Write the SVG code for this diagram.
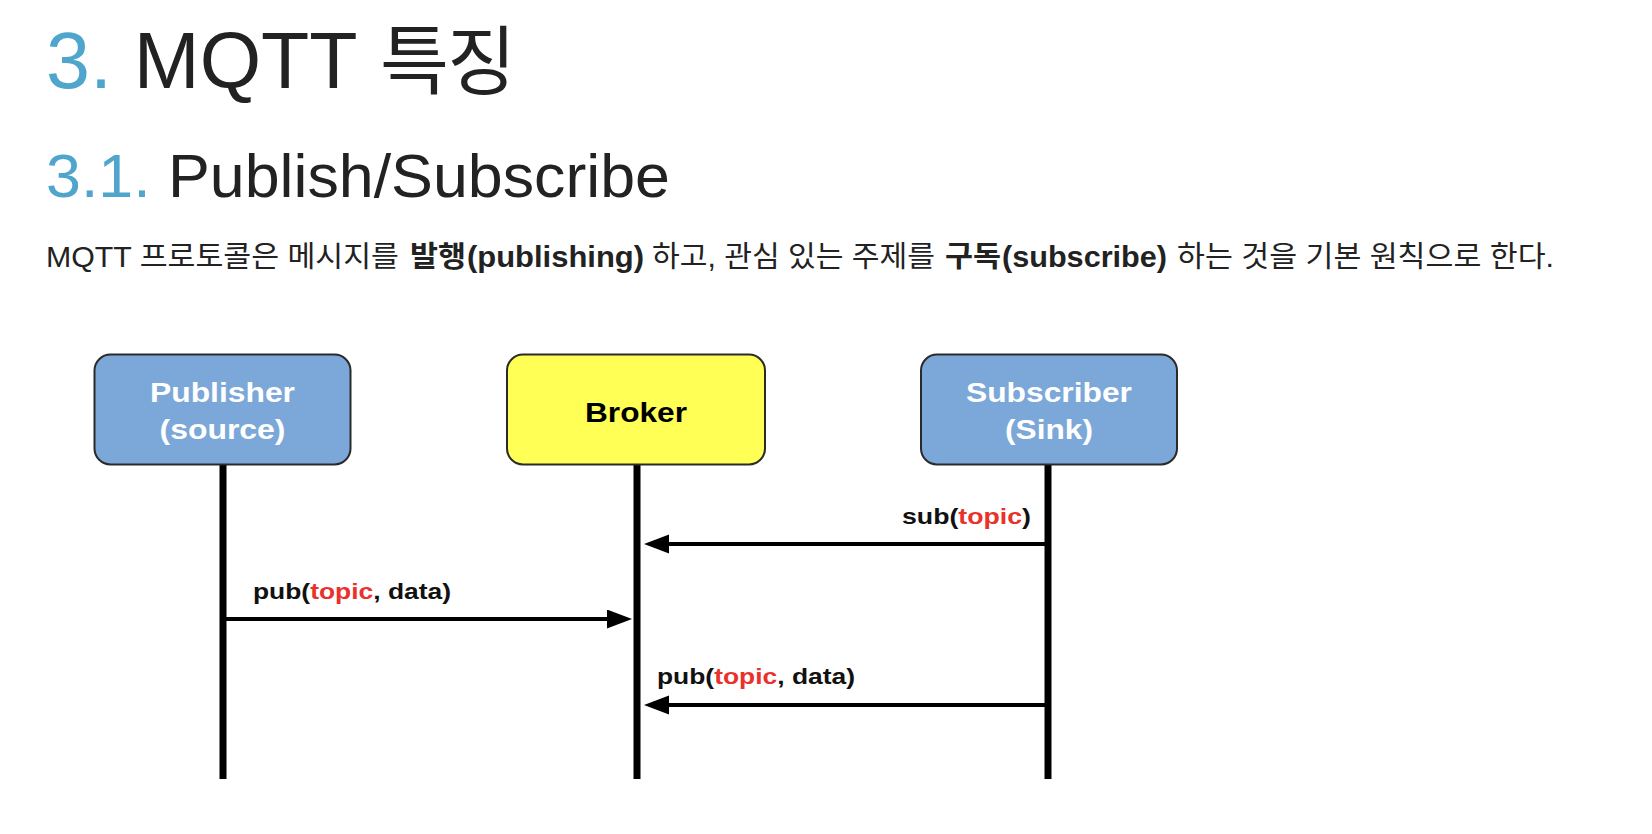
<svg xmlns="http://www.w3.org/2000/svg" width="1652" height="834" viewBox="0 0 1652 834">
<style>
.t{font-family:'Liberation Sans','Noto Sans CJK KR',Arial,sans-serif;fill:#222}
.bt{font-size:29px}
.blue{fill:#4fa5cb}
.b{font-weight:bold}
.box{stroke:#2a2a2a;stroke-width:2}
.pub{fill:#7ba8d8}
.brk{fill:#ffff55}
.wl{font-family:'Liberation Sans',Arial,sans-serif;font-weight:bold;font-size:27px;fill:#fff;text-anchor:middle}
.bl{font-family:'Liberation Sans',Arial,sans-serif;font-weight:bold;font-size:27px;fill:#000;text-anchor:middle}
.lbl{font-family:'Liberation Sans',Arial,sans-serif;font-weight:bold;font-size:22px;fill:#111}
.red{fill:#e8322b}
.life{stroke:#000;stroke-width:7}
.msg{stroke:#000;stroke-width:4;fill:none;marker-end:url(#ah)}
</style>
<defs>
<marker id="ah" markerUnits="userSpaceOnUse" markerWidth="26" markerHeight="20" refX="15" refY="9.5" orient="auto">
<path d="M0,0 L25,9.5 L0,19 z" fill="#000"/>
</marker>
</defs>
<rect width="1652" height="834" fill="#fff"/>
<g id="headings">
<text class="t" x="46" y="88" font-size="79"><tspan class="blue">3.</tspan> MQTT</text>
<text class="t" x="380" y="88" font-size="75" textLength="136">특징</text>
<text class="t" x="46" y="197" font-size="61" textLength="624" lengthAdjust="spacingAndGlyphs"><tspan class="blue">3.1.</tspan> Publish/Subscribe</text>
</g>
<g id="body-text">
<text class="t bt" x="46" y="267" textLength="353" lengthAdjust="spacingAndGlyphs">MQTT 프로토콜은 메시지를</text>
<text class="t bt b" x="410" y="267" textLength="56" lengthAdjust="spacingAndGlyphs">발행</text>
<text class="t bt b" x="467" y="267" textLength="177" lengthAdjust="spacingAndGlyphs">(publishing)</text>
<text class="t bt" x="652" y="267" textLength="283" lengthAdjust="spacingAndGlyphs">하고, 관심 있는 주제를</text>
<text class="t bt b" x="945" y="267" textLength="56" lengthAdjust="spacingAndGlyphs">구독</text>
<text class="t bt b" x="1002" y="267" textLength="165" lengthAdjust="spacingAndGlyphs">(subscribe)</text>
<text class="t bt" x="1177" y="267" textLength="377" lengthAdjust="spacingAndGlyphs">하는 것을 기본 원칙으로 한다.</text>
</g>
<g id="lifelines">
<line class="life" x1="223" y1="465" x2="223" y2="779"/>
<line class="life" x1="637" y1="465" x2="637" y2="779"/>
<line class="life" x1="1048" y1="465" x2="1048" y2="779"/>
</g>
<g id="publisher">
<rect class="box pub" x="94.5" y="354.5" width="256" height="110" rx="16"/>
<text class="wl" x="222.5" y="402" textLength="145" lengthAdjust="spacingAndGlyphs">Publisher</text>
<text class="wl" x="222.5" y="439" textLength="126" lengthAdjust="spacingAndGlyphs">(source)</text>
</g>
<g id="broker">
<rect class="box brk" x="507" y="354.5" width="258" height="110" rx="16"/>
<text class="bl" x="636" y="421.5" textLength="102" lengthAdjust="spacingAndGlyphs">Broker</text>
</g>
<g id="subscriber">
<rect class="box pub" x="921" y="354.5" width="256" height="110" rx="16"/>
<text class="wl" x="1049" y="402" textLength="166" lengthAdjust="spacingAndGlyphs">Subscriber</text>
<text class="wl" x="1049" y="439" textLength="88" lengthAdjust="spacingAndGlyphs">(Sink)</text>
</g>
<g id="connectors">
<line class="msg" x1="1045" y1="544" x2="654" y2="544"/>
<text class="lbl" x="902" y="524" textLength="129" lengthAdjust="spacingAndGlyphs">sub(<tspan class="red">topic</tspan>)</text>
<line class="msg" x1="226" y1="619" x2="622" y2="619"/>
<text class="lbl" x="253" y="599" textLength="198" lengthAdjust="spacingAndGlyphs">pub(<tspan class="red">topic</tspan>, data)</text>
<line class="msg" x1="1045" y1="705" x2="654" y2="705"/>
<text class="lbl" x="657" y="684" textLength="198" lengthAdjust="spacingAndGlyphs">pub(<tspan class="red">topic</tspan>, data)</text>
</g>
</svg>
